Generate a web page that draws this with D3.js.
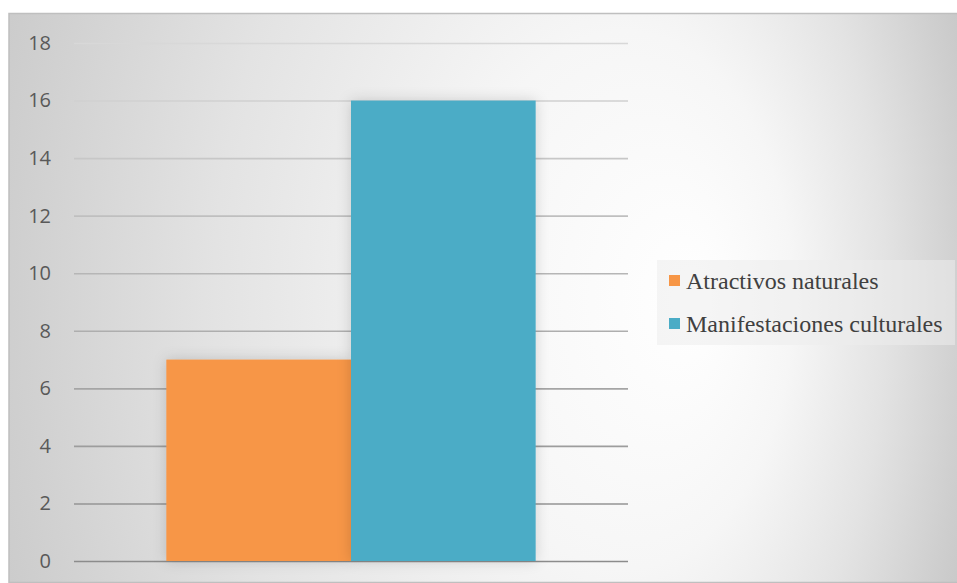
<!DOCTYPE html>
<html lang="es">
<head>
<meta charset="UTF-8">
<title>Atractivos</title>
<script src="https://cdn.jsdelivr.net/npm/d3@7"></script>
<style>
  body { margin: 0; background: #fff; }
  .legend text { font-family: "Liberation Serif", "Times New Roman", Times, serif; }
</style>
</head>
<body>
<svg width="957" height="583"></svg>
<script>
    // datos
    var category = ["Recursos"];
    var series = ["Atractivos naturales", "Manifestaciones culturales"];
    var values = [7, 16];
    var colors = ["#F79646", "#4BACC6"];
    var yTicks = [0, 2, 4, 6, 8, 10, 12, 14, 16, 18];

    var svg = d3.select("svg");
    var defs = svg.append("defs");

    // fondo con degradado radial
    var bg = defs.append("radialGradient")
        .attr("id", "bg")
        .attr("gradientUnits", "userSpaceOnUse")
        .attr("cx", 450).attr("cy", 300).attr("r", 560)
        .attr("fx", 700).attr("fy", 300)
        .attr("gradientTransform", "translate(0,300) scale(1,1.6) translate(0,-300)");
    [[0, "#ffffff"], [0.3, "#f6f6f6"], [0.6, "#e3e3e3"], [0.85, "#cfcfcf"], [1, "#c4c4c4"]]
        .forEach(function(s){
            bg.append("stop").attr("offset", s[0]).attr("stop-color", s[1]);
        });

    var sh = defs.append("filter").attr("id", "shadow")
        .attr("x", "-30%").attr("y", "-30%").attr("width", "160%").attr("height", "160%");
    sh.append("feDropShadow")
        .attr("dx", 0).attr("dy", 0).attr("stdDeviation", 7)
        .attr("flood-color", "#000").attr("flood-opacity", 0.16);

    svg.append("rect")
        .attr("x", 9).attr("y", 13.5).attr("width", 960).attr("height", 569)
        .attr("fill", "url(#bg)")
        .attr("stroke", "#bfbfbf").attr("stroke-width", 1.5);

    var plot = {left: 74, right: 628, top: 43, bottom: 561};

    var yScale = d3.scaleLinear()
        .domain([0, 18])
        .range([plot.bottom, plot.top]);

    var xScale = d3.scaleBand()
        .domain(category)
        .range([plot.left, plot.right])
        .paddingOuter(0.25);

    var xInner = d3.scaleBand()
        .domain(series)
        .range([0, xScale.bandwidth()]);

    // color de la cuadricula: mas clara arriba, mas oscura abajo
    var gridColor = d3.scaleLinear()
        .domain([18, 0])
        .range(["#d8d8d8", "#8c8c8c"]);

    // eje y
    var yAxis = d3.axisLeft(yScale)
        .tickValues(yTicks)
        .tickSize(-(plot.right - plot.left))
        .tickPadding(23);

    var ga = svg.append("g")
        .attr("transform", "translate(" + plot.left + ",0)")
        .call(yAxis);
    ga.select(".domain").remove();
    ga.selectAll(".tick line")
        .attr("stroke", function(d){ return gridColor(d); })
        .attr("stroke-width", 1.6);
    ga.selectAll(".tick text")
        .attr("fill", "#595959")
        .attr("font-family", "'Open Sans', sans-serif")
        .attr("font-size", "20px");

    // barras
    svg.append("g").selectAll("rect")
        .data(values)
        .enter()
        .append("rect")
        .attr("x", function(d, i){ return xScale(category[0]) + xInner(series[i]); })
        .attr("y", function(d){ return yScale(d); })
        .attr("width", xInner.bandwidth())
        .attr("height", function(d){ return plot.bottom - yScale(d); })
        .attr("fill", function(d, i){ return colors[i]; })
        .attr("filter", "url(#shadow)");

    // leyenda
    var lg = svg.append("g").attr("class", "legend").attr("transform", "translate(657,260)");
    lg.append("rect")
        .attr("width", 298).attr("height", 85)
        .attr("fill", "#ececec").attr("fill-opacity", 0.55);
    var items = lg.selectAll(".item")
        .data(series)
        .enter()
        .append("g")
        .attr("transform", function(d, i){ return "translate(12," + (15 + i * 43) + ")"; });
    items.append("rect")
        .attr("width", 11).attr("height", 11)
        .attr("fill", function(d, i){ return colors[i]; });
    items.append("text")
        .attr("x", 17).attr("y", 14)
        .attr("fill", "#404040")
        .attr("font-size", "24px")
        .text(function(d){ return d; });
</script>
</body>
</html>
